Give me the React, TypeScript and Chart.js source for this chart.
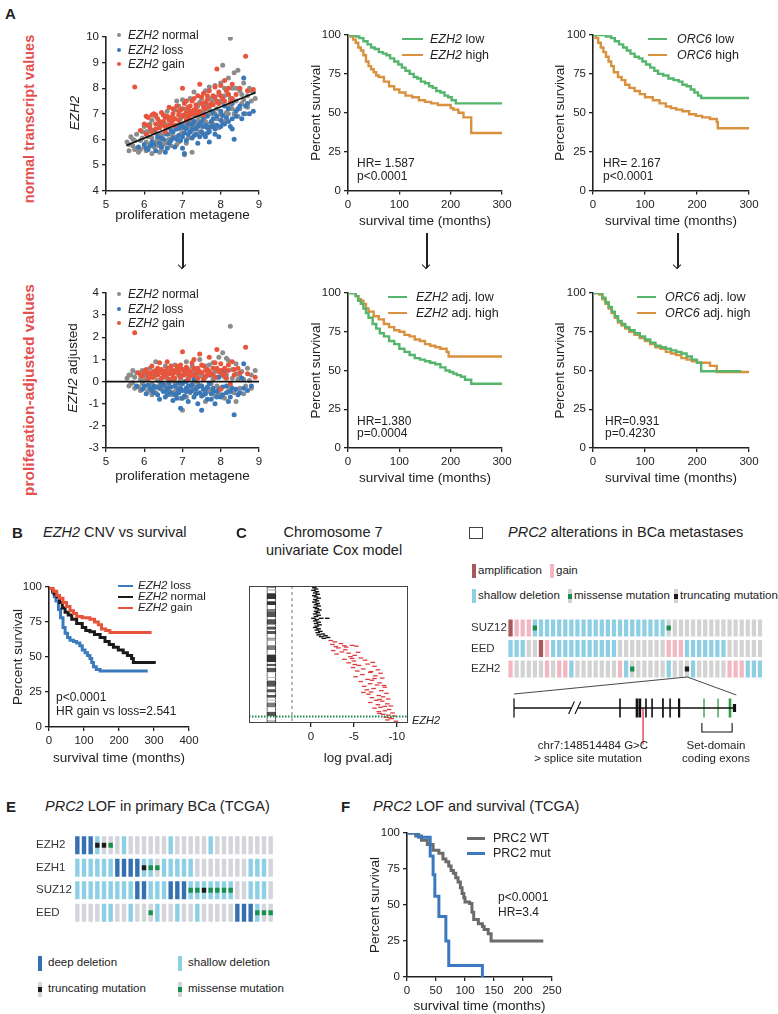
import React, { useEffect, useRef } from "react";
import { Chart, registerables } from "chart.js";

Chart.register(...registerables);

const FONT = "'Liberation Sans', Arial, Helvetica, sans-serif";
Chart.defaults.font.family = FONT;
Chart.defaults.color = "#222";

// ======================= DATA =======================
// ---- Panel A: EZH2 vs proliferation metagene ----
const metageneTicks = [5, 6, 7, 8, 9];
const ezh2Ticks = [4, 5, 6, 7, 8, 9, 10];
const ezh2AdjTicks = [-3, -2, -1, 0, 1, 2, 3, 4];

const ezh2Normal = [
  [5.55, 5.9], [5.6, 5.55], [5.65, 6.1], [5.7, 5.75], [5.75, 5.6], [5.8, 6.2], [5.85, 5.5], [5.9, 5.95], [5.95, 6.3], [6.0, 5.7],
  [6.0, 6.5], [6.05, 5.55], [6.1, 6.1], [6.15, 6.6], [6.15, 5.8], [6.2, 5.45], [6.25, 6.35], [6.3, 6.9], [6.3, 5.9], [6.35, 6.0],
  [6.4, 6.55], [6.45, 5.6], [6.5, 6.2], [6.5, 6.95], [6.55, 5.85], [6.6, 6.45], [6.6, 7.1], [6.65, 6.0], [6.7, 6.7], [6.7, 5.75],
  [6.75, 6.3], [6.8, 7.15], [6.8, 6.1], [6.85, 6.55], [6.9, 5.9], [6.9, 7.3], [6.95, 6.8], [7.0, 6.25], [7.0, 7.55], [7.05, 5.4],
  [7.05, 6.9], [7.1, 6.45], [7.1, 7.2], [7.15, 6.05], [7.2, 6.75], [7.2, 7.6], [7.25, 6.35], [7.3, 7.0], [7.3, 7.85], [7.35, 6.6],
  [7.4, 7.3], [7.4, 6.2], [7.45, 6.9], [7.5, 7.6], [7.5, 6.5], [7.55, 7.1], [7.6, 7.9], [7.6, 6.7], [7.65, 7.35], [7.7, 6.4],
  [7.7, 8.05], [7.75, 7.0], [7.8, 7.55], [7.8, 6.6], [7.85, 8.1], [7.9, 7.2], [7.9, 6.8], [7.95, 7.75], [8.0, 8.2], [8.0, 7.0],
  [8.05, 8.9], [8.05, 7.45], [8.1, 6.7], [8.1, 8.0], [8.15, 7.3], [8.2, 8.4], [8.2, 7.0], [8.25, 9.95], [8.25, 7.6], [8.3, 8.0],
  [8.3, 7.2], [8.35, 8.6], [8.4, 7.5], [8.45, 8.7], [8.45, 6.9], [8.5, 7.9], [8.55, 7.4], [8.6, 8.2], [8.65, 7.0], [8.7, 7.7],
  [8.75, 8.0], [8.8, 7.5], [8.85, 7.85], [8.9, 7.6], [6.4, 5.5], [6.85, 7.5], [7.25, 5.5], [6.2, 6.75], [5.9, 5.6], [7.95, 6.45],
  [6.55, 6.6], [6.95, 6.4], [7.15, 6.9], [7.45, 6.3], [7.65, 6.95], [5.75, 5.95], [6.05, 6.3], [6.25, 5.7], [6.75, 6.85], [7.35, 7.15],
  [5.6, 5.8], [5.7, 6.0], [5.8, 5.65], [5.95, 6.05], [6.05, 5.9], [6.1, 6.3], [6.2, 6.05], [6.3, 6.25], [6.35, 5.75], [6.4, 6.2],
  [6.5, 5.8], [6.55, 6.25], [6.6, 5.95], [6.65, 6.55], [6.7, 6.2], [6.8, 6.4], [6.85, 5.8], [6.95, 6.2], [7.0, 6.95], [7.05, 6.6],
  [7.1, 5.85], [7.2, 6.5], [7.25, 6.95], [7.3, 6.45], [7.4, 6.75], [7.45, 7.45], [7.5, 7.0], [7.6, 7.3], [7.65, 6.6], [7.7, 7.2],
  [7.75, 7.6], [7.85, 7.0], [7.9, 7.45], [8.0, 7.5], [8.05, 6.9], [8.1, 7.7], [8.15, 7.05], [8.2, 7.75], [8.3, 7.55], [8.35, 7.0],
  [8.4, 8.0], [8.5, 7.2], [8.55, 7.75], [8.6, 7.55], [8.7, 7.25], [8.8, 7.9], [6.45, 6.0], [6.9, 6.5], [7.55, 6.75], [8.25, 7.3],
];
const ezh2Loss = [
  [5.85, 5.7], [6.0, 5.8], [6.1, 5.6], [6.2, 5.9], [6.3, 5.55], [6.35, 6.1], [6.45, 5.7], [6.5, 6.0], [6.55, 5.5], [6.6, 6.2],
  [6.65, 5.85], [6.7, 6.35], [6.75, 6.05], [6.8, 5.7], [6.85, 6.4], [6.9, 6.15], [6.95, 5.95], [7.0, 6.5], [7.0, 5.65], [7.05, 6.25],
  [7.1, 5.95], [7.15, 6.6], [7.2, 6.3], [7.25, 6.05], [7.3, 6.7], [7.35, 6.4], [7.4, 5.85], [7.45, 6.6], [7.5, 6.3], [7.55, 6.85],
  [7.6, 6.1], [7.6, 6.55], [7.65, 6.9], [7.7, 5.9], [7.75, 6.7], [7.8, 7.05], [7.85, 6.4], [7.9, 6.9], [7.95, 6.1], [8.0, 7.1],
  [8.05, 6.6], [8.1, 7.3], [8.15, 6.85], [8.2, 7.2], [8.25, 6.5], [8.3, 7.4], [8.35, 6.0], [8.4, 7.1], [8.5, 7.3], [8.6, 8.4],
  [8.6, 7.0], [8.7, 7.4], [8.85, 7.1], [6.25, 6.35], [6.95, 6.6], [7.35, 6.95], [7.7, 6.3], [7.05, 5.45], [6.4, 5.85], [7.55, 6.5],
  [6.6, 5.65], [6.85, 6.0], [7.1, 6.4], [7.25, 6.6], [7.45, 6.1], [7.8, 6.5], [8.0, 6.75], [8.3, 6.8], [6.15, 5.75], [7.65, 6.25],
  [6.05, 5.65], [6.25, 5.8], [6.45, 6.05], [6.7, 5.95], [6.75, 6.3], [6.9, 6.45], [7.0, 6.1], [7.15, 6.2], [7.25, 6.4], [7.3, 6.15],
  [7.4, 6.5], [7.5, 6.7], [7.55, 6.2], [7.65, 6.45], [7.75, 6.5], [7.8, 6.8], [7.85, 6.2], [7.9, 6.55], [8.0, 6.5], [8.05, 6.95],
  [8.1, 6.6], [8.2, 6.7], [8.3, 6.4], [8.4, 6.9], [8.45, 7.2], [8.55, 6.8], [8.65, 7.3], [8.75, 7.0], [7.35, 6.2], [7.05, 6.45],
];
const ezh2Gain = [
  [5.75, 8.05], [5.9, 6.35], [6.0, 6.6], [6.05, 6.2], [6.1, 6.85], [6.15, 6.45], [6.2, 6.3], [6.25, 7.0], [6.3, 6.6], [6.35, 6.8],
  [6.4, 6.45], [6.45, 7.05], [6.5, 6.7], [6.55, 6.5], [6.6, 6.9], [6.65, 7.25], [6.7, 6.6], [6.75, 7.0], [6.8, 6.8], [6.85, 7.3],
  [6.9, 6.95], [6.95, 7.15], [7.0, 8.0], [7.0, 6.9], [7.05, 7.4], [7.1, 7.05], [7.15, 7.25], [7.2, 6.95], [7.25, 7.5], [7.3, 7.15],
  [7.35, 7.35], [7.4, 7.7], [7.45, 8.15], [7.45, 7.1], [7.5, 7.4], [7.55, 7.8], [7.6, 7.2], [7.65, 7.55], [7.7, 7.9], [7.75, 7.4],
  [7.8, 7.7], [7.85, 8.05], [7.9, 8.75], [7.9, 7.5], [7.95, 7.85], [8.0, 8.1], [8.05, 7.6], [8.1, 8.3], [8.15, 7.9], [8.2, 8.0],
  [8.25, 7.45], [8.3, 8.15], [8.4, 7.75], [8.5, 8.0], [8.65, 9.25], [8.7, 7.9], [8.85, 7.95], [6.3, 6.95], [6.55, 6.3], [6.75, 6.75],
  [7.15, 6.85], [7.35, 7.0], [6.05, 6.9], [7.55, 6.95], [6.45, 6.55], [6.65, 6.75], [6.9, 7.1], [7.1, 6.75], [7.2, 7.3], [7.6, 7.45],
  [6.1, 6.55], [6.2, 6.95], [6.3, 6.4], [6.4, 6.7], [6.5, 6.95], [6.55, 6.85], [6.6, 6.5], [6.7, 6.85], [6.75, 7.2], [6.8, 6.55],
  [6.9, 6.75], [7.0, 7.2], [7.05, 6.95], [7.1, 7.5], [7.2, 7.1], [7.25, 7.0], [7.3, 7.6], [7.35, 7.2], [7.4, 7.05], [7.5, 7.65],
  [7.55, 7.25], [7.65, 7.7], [7.7, 7.3], [7.8, 7.35], [7.85, 7.65], [7.95, 7.4], [8.0, 7.7], [8.1, 7.5], [8.2, 7.75], [8.3, 7.6],
];
const ezh2Fit = [[5.53, 5.76], [8.91, 7.83]];

const adjNormal = [
  [5.55, 0.15], [5.6, -0.2], [5.65, 0.3], [5.7, -0.05], [5.75, -0.3], [5.8, 0.4], [5.85, -0.25], [5.9, 0.1], [5.95, 0.5], [6.0, -0.3],
  [6.05, 0.25], [6.1, -0.45], [6.15, 0.6], [6.2, -0.1], [6.25, 0.35], [6.3, 0.9], [6.3, -0.5], [6.35, 0.05], [6.4, 0.5], [6.45, -0.35],
  [6.5, 0.2], [6.55, 0.7], [6.6, -0.2], [6.65, 0.4], [6.7, -0.6], [6.75, 0.1], [6.8, 0.75], [6.85, -0.3], [6.9, 0.3], [6.95, -0.75],
  [7.0, 0.55], [7.0, -1.3], [7.05, 0.0], [7.1, 0.9], [7.15, -0.4], [7.2, 0.25], [7.25, -0.15], [7.3, 0.6], [7.35, -0.55], [7.4, 0.35],
  [7.45, 1.0], [7.5, -0.2], [7.55, 0.15], [7.6, 0.7], [7.65, -0.45], [7.7, 0.4], [7.75, -0.1], [7.8, 0.85], [7.85, -0.65], [7.9, 0.2],
  [7.95, 1.1], [8.0, -0.3], [8.05, 0.5], [8.1, -0.75], [8.15, 0.3], [8.2, 0.95], [8.25, 2.5], [8.25, -0.2], [8.3, 0.55], [8.35, -0.5],
  [8.4, 0.8], [8.45, 0.1], [8.5, -0.3], [8.55, 0.45], [8.6, -0.55], [8.7, 0.6], [8.75, 0.05], [8.8, -0.3], [8.9, 0.5], [6.0, 0.05],
  [6.45, -0.05], [6.9, -0.1], [7.35, 0.0], [7.8, 0.1], [8.05, 1.3], [8.4, -0.9], [5.7, 0.5], [6.2, -0.6], [7.1, -0.7], [7.6, -0.9],
  [8.15, 1.05], [6.55, 0.35], [6.8, -0.45], [7.25, 0.45], [7.5, 0.25], [7.7, -0.35], [6.35, -0.25], [5.95, -0.1],
  [5.6, 0.3], [5.65, -0.1], [5.75, 0.2], [5.9, -0.4], [6.0, 0.35], [6.1, 0.1], [6.2, 0.3], [6.25, -0.3], [6.35, 0.45], [6.4, -0.15],
  [6.5, -0.25], [6.6, 0.15], [6.65, -0.4], [6.75, 0.5], [6.8, -0.05], [6.9, 0.55], [6.95, 0.15], [7.05, 0.4], [7.1, -0.3], [7.2, -0.5],
  [7.25, 0.7], [7.3, -0.25], [7.4, -0.1], [7.45, 0.4], [7.55, -0.35], [7.6, 0.2], [7.7, 0.75], [7.75, 0.3], [7.85, 0.45], [7.9, -0.2],
  [8.0, 0.35], [8.1, 0.2], [8.2, -0.4], [8.3, 0.15], [8.4, 0.35], [8.5, 0.25], [8.6, 0.1], [8.65, -0.2], [8.8, 0.3], [7.15, 0.15],
  [6.55, -0.15], [7.95, -0.55],
];
const adjLoss = [
  [5.8, -0.2], [5.95, -0.35], [6.1, -0.15], [6.2, -0.4], [6.3, -0.25], [6.35, -0.6], [6.45, -0.1], [6.5, -0.45], [6.55, -0.7], [6.6, -0.3],
  [6.65, -0.05], [6.7, -0.5], [6.75, -0.85], [6.8, -0.2], [6.85, -0.55], [6.9, -0.35], [6.95, -1.2], [7.0, -0.1], [7.05, -0.65], [7.1, -0.3],
  [7.15, -0.9], [7.2, -0.45], [7.25, -0.15], [7.3, -0.7], [7.35, -0.35], [7.4, -1.0], [7.45, -0.5], [7.5, -1.3], [7.5, -0.2], [7.55, -0.6],
  [7.6, -0.35], [7.65, -0.8], [7.7, -0.1], [7.75, -0.55], [7.8, -0.3], [7.85, -1.0], [7.9, -0.45], [7.95, 0.2], [8.0, -0.7], [8.05, -0.25],
  [8.1, 0.45], [8.15, -0.5], [8.2, -0.9], [8.3, -0.3], [8.35, -1.5], [8.45, -0.6], [8.55, 0.15], [8.6, 0.8], [8.7, -0.4], [8.8, -0.2],
  [6.4, -0.8], [6.9, -0.05], [7.3, 0.1], [7.7, 0.3], [6.05, -0.55], [7.1, 0.0], [6.6, -0.6], [7.0, -0.4], [7.4, -0.25], [7.6, -0.55],
  [6.25, -0.2], [6.85, -0.75], [7.2, -0.2], [7.9, -0.7], [8.25, -0.45],
  [6.0, -0.2], [6.15, -0.3], [6.25, -0.5], [6.4, -0.3], [6.5, -0.15], [6.6, -0.45], [6.7, -0.25], [6.8, -0.6], [6.9, -0.5], [7.0, -0.75],
  [7.1, -0.45], [7.15, -0.2], [7.25, -0.4], [7.35, -0.55], [7.45, -0.2], [7.55, -0.35], [7.65, -0.25], [7.75, -0.8], [7.8, -0.45], [7.95, -0.35],
  [8.05, -0.6], [8.15, -0.2], [8.25, -0.7], [8.4, -0.35], [8.5, -0.5], [8.6, -0.3], [6.95, -0.3], [7.5, -0.65],
];
const adjGain = [
  [5.75, 2.2], [5.85, 0.4], [5.95, 0.25], [6.05, 0.55], [6.1, 0.15], [6.15, 0.4], [6.2, 0.7], [6.25, 0.2], [6.3, 0.5], [6.35, 0.3],
  [6.4, 0.85], [6.45, 0.15], [6.5, 0.45], [6.55, 0.25], [6.6, 0.6], [6.65, 0.1], [6.7, 0.5], [6.75, 0.35], [6.8, 0.15], [6.85, 0.7],
  [6.9, 0.4], [6.95, 0.2], [7.0, 1.35], [7.0, 0.55], [7.05, 0.3], [7.1, 0.65], [7.15, 0.1], [7.2, 0.45], [7.25, 0.85], [7.3, 0.3],
  [7.35, 0.55], [7.4, 0.15], [7.45, 1.25], [7.5, 0.4], [7.55, 0.7], [7.6, 0.25], [7.65, 0.55], [7.7, 1.1], [7.75, 0.35], [7.8, 0.6],
  [7.85, 0.2], [7.9, 1.45], [7.95, 0.45], [8.0, 0.8], [8.05, 0.3], [8.1, 0.6], [8.15, 0.15], [8.2, 0.5], [8.3, 0.9], [8.35, 0.3],
  [8.45, 0.6], [8.65, 1.55], [8.7, 0.35], [8.9, 0.2], [6.35, 0.6], [6.6, 0.9], [6.95, 0.75], [7.3, 1.0], [7.55, 0.1], [7.85, 0.85],
  [8.25, -0.1], [8.0, -0.35], [6.5, 0.3], [6.8, 0.5], [7.1, 0.35], [7.4, 0.6], [7.65, 0.3], [6.25, 0.45],
  [5.9, 0.3], [6.0, 0.45], [6.1, 0.35], [6.2, 0.2], [6.3, 0.3], [6.4, 0.4], [6.45, 0.55], [6.55, 0.45], [6.65, 0.35], [6.7, 0.7],
  [6.75, 0.2], [6.85, 0.4], [6.9, 0.6], [7.0, 0.3], [7.05, 0.5], [7.15, 0.55], [7.2, 0.25], [7.3, 0.6], [7.35, 0.35], [7.45, 0.45],
  [7.5, 0.75], [7.6, 0.5], [7.7, 0.45], [7.8, 0.3], [7.9, 0.6], [8.0, 0.5], [8.1, 0.35], [8.2, 0.75], [8.35, 0.55], [8.5, 0.4],
];
const adjFit = [[5, 0], [9, 0]];

// ---- Kaplan–Meier curves: [time (months), percent survival] ----
const survTicks = [0, 25, 50, 75, 100];
const t300Ticks = [0, 100, 200, 300];
const t400Ticks = [0, 100, 200, 300, 400];
const t250Ticks = [0, 50, 100, 150, 200, 250];

const kmEzh2Low = [[0, 100], [10, 100], [15, 99], [22, 98], [30, 96], [38, 94], [45, 92], [52, 91], [60, 89], [68, 88], [75, 87], [82, 85], [90, 83], [98, 81], [105, 79], [112, 77], [120, 75], [128, 73], [135, 72], [142, 70], [150, 69], [158, 67], [165, 66], [172, 64], [180, 63], [188, 61], [195, 60], [202, 58], [210, 56], [300, 56]];
const kmEzh2High = [[0, 100], [5, 99], [10, 97], [15, 95], [20, 92], [25, 90], [30, 87], [35, 83], [40, 80], [45, 78], [50, 76], [55, 74], [60, 73], [70, 70], [80, 67], [90, 65], [100, 63], [112, 61], [125, 60], [138, 58], [150, 57], [162, 56], [175, 55], [195, 55], [200, 53], [205, 52], [215, 50], [225, 47], [238, 47], [240, 37], [300, 37]];
const kmOrc6Low = [[0, 100], [15, 100], [25, 99], [35, 98], [42, 96], [50, 94], [58, 92], [65, 90], [72, 88], [80, 86], [88, 85], [95, 83], [102, 81], [110, 79], [118, 77], [125, 75], [135, 74], [145, 72], [155, 71], [165, 70], [172, 68], [180, 67], [188, 65], [195, 63], [202, 61], [208, 59.5], [300, 59.5]];
const kmOrc6High = [[0, 100], [5, 98], [10, 95], [15, 92], [20, 89], [25, 86], [30, 83], [35, 80], [40, 76], [48, 73], [55, 71], [62, 68], [70, 66], [80, 64], [90, 62], [100, 60], [115, 58], [128, 56], [140, 54], [150, 53], [160, 52], [172, 51], [185, 49], [198, 48], [210, 47], [225, 46], [238, 44], [240, 40], [300, 40]];
const kmEzh2AdjLow = [[0, 100], [10, 100], [15, 98], [20, 95], [25, 93], [30, 90], [35, 87], [40, 84], [48, 80], [55, 77], [62, 74], [70, 72], [80, 69], [90, 67], [100, 64], [110, 62], [120, 60], [130, 58], [140, 57], [150, 56], [160, 55], [170, 54], [180, 52], [190, 50], [198, 49], [205, 48], [212, 47], [220, 46], [228, 44], [235, 44], [240, 41.5], [300, 41.5]];
const kmEzh2AdjHigh = [[0, 100], [10, 100], [15, 98], [20, 96], [25, 95], [30, 93], [35, 90], [40, 88], [50, 85], [60, 83], [70, 80], [80, 78], [90, 76], [100, 75], [110, 73], [120, 72], [130, 70], [140, 69], [150, 67], [160, 66], [170, 65], [180, 64], [192, 62], [196, 59], [300, 59]];
const kmOrc6AdjLow = [[0, 100], [12, 100], [18, 97], [24, 94], [30, 91], [36, 88], [42, 85], [48, 82], [55, 80], [62, 78], [70, 76], [80, 74], [90, 72], [100, 70], [110, 68], [120, 66], [130, 65], [140, 64], [150, 63], [160, 62], [170, 61], [180, 59], [190, 57], [200, 55], [208, 49.5], [285, 49.5]];
const kmOrc6AdjHigh = [[0, 100], [12, 99], [18, 96], [24, 93], [30, 90], [36, 87], [42, 84], [48, 81], [55, 79], [62, 77], [70, 75], [80, 73], [90, 71], [100, 69], [110, 67], [120, 65], [130, 64], [140, 62], [150, 61], [160, 60], [170, 58], [180, 57], [190, 56], [200, 55], [215, 55], [225, 53], [238, 49], [300, 49]];

const kmCnvLoss = [[0, 100], [5, 99], [10, 96], [15, 93], [20, 90], [27, 84], [33, 78], [40, 71], [46, 67], [53, 64], [60, 62], [70, 61], [79, 60], [88, 58], [95, 55], [103, 53], [110, 51], [117, 49], [122, 46], [127, 43], [135, 41], [146, 40], [282, 40]];
const kmCnvNormal = [[0, 100], [5, 99], [10, 97], [15, 95], [22, 93], [30, 89], [38, 85], [46, 82], [55, 80], [65, 77], [79, 74], [95, 71], [105, 69], [117, 68], [130, 66], [146, 64], [160, 61], [172, 59], [184, 57], [198, 55], [212, 53], [224, 51], [236, 49], [241, 46], [305, 46]];
const kmCnvGain = [[0, 100], [5, 99], [12, 97], [22, 94], [30, 92], [40, 89], [50, 86], [60, 83], [70, 81], [79, 79], [95, 78], [117, 77], [130, 75], [141, 73], [150, 70], [162, 69], [174, 67.5], [293, 67.5]];

const kmPrc2Wt = [[0, 100], [10, 100], [15, 98], [25, 95], [35, 92], [45, 88], [55, 86], [62, 82], [67, 80], [72, 77], [76, 74], [80, 72], [84, 69], [88, 66], [92, 62], [95, 58], [98, 55], [100, 52], [108, 51], [112, 45], [115, 40], [123, 37], [130, 35], [133, 33], [140, 30], [145, 25], [235, 25]];
const kmPrc2Mut = [[0, 100], [20, 97], [38, 97], [40, 84], [45, 71], [48, 56], [55, 42], [67, 25], [72, 8], [130, 8], [130, 0]];

// ---- Panel C: chromosome 7 univariate Cox model ----
const coxTicks = [0, -5, -10];
const chr7Bands: [number, number, string][] = [
  [0, 2.8, "gneg"], [2.8, 4.5, "gpos25"], [4.5, 7.3, "gneg"], [7.3, 13.8, "gpos100"], [13.8, 16.5, "gneg"], [16.5, 20.9, "gpos100"],
  [20.9, 25.5, "gneg"], [25.5, 28.8, "gpos50"], [28.8, 28.9, "gneg"], [28.9, 34.8, "gpos75"], [34.8, 37.1, "gneg"], [37.1, 43.3, "gpos75"],
  [43.3, 45.4, "gneg"], [45.4, 49.0, "gpos75"], [49.0, 50.5, "gneg"], [50.5, 54.0, "gpos75"], [54.0, 58.0, "gneg"], [58.0, 59.9, "acen"],
  [59.9, 61.7, "acen"], [61.7, 67.0, "gneg"], [67.0, 72.2, "gpos50"], [72.2, 77.5, "gneg"], [77.5, 86.4, "gpos100"], [86.4, 88.2, "gneg"],
  [88.2, 91.1, "gpos75"], [91.1, 92.8, "gneg"], [92.8, 98.0, "gpos75"], [98.0, 103.8, "gneg"], [103.8, 104.5, "gpos50"], [104.5, 107.4, "gneg"],
  [107.4, 114.6, "gpos75"], [114.6, 117.4, "gneg"], [117.4, 121.1, "gpos75"], [121.1, 123.8, "gneg"], [123.8, 127.1, "gpos75"], [127.1, 129.2, "gneg"],
  [129.2, 130.4, "gpos25"], [130.4, 132.6, "gneg"], [132.6, 138.2, "gpos50"], [138.2, 143.1, "gneg"], [143.1, 147.9, "gpos75"], [147.9, 152.6, "gneg"],
  [152.6, 155.1, "gpos25"], [155.1, 159.1, "gneg"],
];
// [position (Mb), log pval.adj]
const coxNotSig = [
  [1, -0.4], [2.5, -0.6], [4, -0.3], [5.5, -0.7], [7, -0.5], [8.5, -0.8], [10, -0.4], [11.5, -0.6], [13, -0.9], [14.5, -0.5],
  [16, -0.7], [17.5, -0.4], [19, -0.8], [20.5, -0.6], [22, -0.9], [23.5, -0.5], [25, -0.7], [26.5, -1.0], [28, -0.6], [29.5, -0.8],
  [31, -0.5], [32.5, -0.9], [34, -0.6], [36, -1.9], [36, -1.2], [36, -0.3], [37.5, -0.7], [39, -0.5], [40.5, -0.9], [42, -0.6],
  [43.5, -1.0], [45, -0.7], [46.5, -0.5], [48, -0.9], [49.5, -0.7], [51, -1.1], [52.5, -0.8], [54, -1.4], [55, -0.9], [56, -1.7],
  [57, -1.2], [58, -2.0], [59, -1.5],
];
const coxSig = [
  [61.5, -2.3], [63, -2.8], [65, -3.5], [66, -2.5], [67, -4.8], [67.5, -3.9], [68, -5.3], [68.5, -2.9], [70, -3.2], [72, -4.0],
  [73, -2.6], [74.5, -3.6], [76, -4.4], [77, -3.0], [78.5, -5.1], [80, -4.6], [81.5, -5.8], [83, -3.9], [84, -6.3], [85, -5.0],
  [86.5, -7.2], [87, -4.4], [88.5, -6.6], [90, -5.6], [91, -7.4], [92.5, -4.9], [94, -6.1], [95, -7.8], [96.5, -5.4], [98, -6.9],
  [99, -8.1], [100.5, -6.0], [102, -7.5], [103, -5.2], [104.5, -8.3], [106, -6.6], [107, -7.1], [108.5, -5.8], [110, -8.0], [111, -6.9],
  [112.5, -7.7], [114, -6.2], [115, -8.6], [116.5, -7.3], [118, -6.5], [119, -8.2], [120.5, -7.0], [122, -8.8], [123, -6.7], [124.5, -7.9],
  [126, -8.4], [127, -7.1], [128.5, -9.0], [130, -7.6], [131, -8.3], [132.5, -6.9], [134, -8.9], [135, -7.8], [136.5, -9.3], [138, -8.1],
  [139, -7.4], [140.5, -9.1], [142, -8.6], [143, -7.9], [144.5, -9.5], [146, -8.4], [147, -9.0], [148, -9.7], [149.5, -8.7], [151, -9.4],
  [152.5, -8.9], [154, -9.9], [69, -4.1], [75, -5.5], [82, -4.8], [89, -5.1], [97, -7.0], [105, -7.4], [113, -8.5], [121, -6.1],
  [129, -8.0], [137, -8.6], [145, -8.0], [150, -9.2],
];
const ezh2PositionMb = 148.5;
const coxThreshold = 2.2;
const ideogramColumn = 4.6;

// ---- Panel D: PRC2 alterations in BCa metastases ----
const dGenes = ["SUZ12", "EED", "EZH2"];
const dCnv = [
  "appp" + "ssssssssssssssssssssss" + "gggggggggggggggg",
  "sssgg" + "a" + "p" + "sssssssssss" + "gggggggg" + "ppp" + "sssssss" + "gggggg",
  "pgggggpgpps" + "gggggggps" + "gggggg" + "sggg" + "s" + "ggggg" + "ppp" + "sss",
];
const dMut = [
  "....m" + "....................." + "m" + "...............",
  "..........................................",
  "...................." + "m" + "........" + "t" + "............",
];
// gene model (diagram units)
const geneSpan = [3.4, 87.0];
const geneBreak = [25.0, 27.6];
const geneExons: [number, number, string][] = [
  [43.4, 1.6, "#111"], [49.8, 2.6, "#111"], [50.9, 2.6, "#111"], [53.2, 1.6, "#111"], [55.5, 1.6, "#111"],
  [59.6, 1.0, "#111"], [62.3, 1.6, "#111"], [65.7, 2.2, "#111"],
  [75.1, 1.3, "#2ea043"], [80.4, 1.3, "#2ea043"], [84.9, 2.6, "#2ea043"],
];
const spliceSite = 52.1;
const setDomain = [74.3, 85.7];

// ---- Panel E: PRC2 LOF in primary BCa (TCGA) ----
const eGenes = ["EZH2", "EZH1", "SUZ12", "EED"];
const eCnv = [
  "ddd" + "s" + "ggg" + "s" + "gggggg" + "s" + "ggggg" + "s" + "ggggggggg",
  "ssssss" + "dddd" + "ss" + "g" + "sssss" + "gggggggg" + "sss" + "g",
  "sssssssss" + "dd" + "sss" + "ddd" + "sssssss" + "gg" + "sss" + "g",
  "gggg" + "ss" + "gg" + "s" + "ggg" + "s" + "gg" + "s" + "gg" + "s" + "ggggg" + "ddd" + "s" + "gg",
];
const eMut = [
  "..." + "ttm" + "........................",
  ".........." + "tmm" + ".................",
  "................." + "mmtmmmm" + "......",
  "..........." + "m" + "..............." + "mmm",
];

// ======================= STYLE =======================
const GREEN = "#55b56c";
const ORANGE = "#d8913e";
const SC_GRAY = "#8c8c8c";
const SC_BLUE = "#3b78b8";
const SC_RED = "#e8553d";
const B_BLUE = "#3a7abd";
const B_BLACK = "#1a1a1a";
const B_RED = "#e8533c";
const F_GRAY = "#6b6b6b";
const F_BLUE = "#3a78bf";
const RED_LABEL = "#e4504f";

const dColors: Record<string, string> = { g: "#d3d3d3", s: "#8ecfe4", p: "#f3b7c2", a: "#a65a5e", m: "#18904c", t: "#1b1b1b" };
const eColors: Record<string, string> = { g: "#d3d5da", s: "#8dd0e5", d: "#3570b1", m: "#18904c", t: "#1b1b1b" };

type Box = { l: number; t: number; r: number; b: number };

const tickFont = { size: 11.5, family: FONT };
const titleFont = { size: 13.5, family: FONT, lineHeight: 1 };

function base(padding: any) {
  return {
    responsive: false,
    maintainAspectRatio: false,
    animation: false,
    events: [],
    layout: { padding },
    plugins: { legend: { display: false }, tooltip: { enabled: false } },
  };
}

function frame(c: Box, a: Box) {
  return {
    padding: { left: 0, top: a.t - c.t, right: c.r - a.r, bottom: 0 },
    yW: a.l - c.l,
    xH: c.b - a.b,
  };
}

function linAxis(o: { axis: "x" | "y"; min: number; max: number; ticks: number[]; size: number; title?: string; titleOff?: number; reverse?: boolean; border?: boolean }) {
  return {
    type: "linear",
    min: o.min,
    max: o.max,
    offset: false,
    reverse: !!o.reverse,
    afterBuildTicks: (s: any) => {
      s.ticks = o.ticks.map((v) => ({ value: v }));
    },
    afterFit: (s: any) => {
      if (o.axis === "x") {
        s.height = o.size;
        s.paddingLeft = 0;
        s.paddingRight = 0;
      } else {
        s.width = o.size;
        s.paddingTop = 0;
        s.paddingBottom = 0;
      }
    },
    ticks: { font: tickFont, color: "#222", padding: 3 },
    grid: { display: true, offset: false, drawOnChartArea: false, drawTicks: true, tickLength: 4, color: "#222", lineWidth: 1.3 },
    border: { display: o.border !== false, color: "#222", width: 1.6 },
    title: o.title
      ? { display: true, text: o.title, font: titleFont, color: "#222", padding: { top: o.titleOff, bottom: o.titleOff } }
      : { display: false },
  };
}

const xy = (arr: number[][]) => arr.map(([x, y]) => ({ x, y }));

function kmConfig(series: { data: number[][]; color: string; width?: number }[], c: Box, a: Box, xMax: number, xTicks: number[], yTitleX: number, xTitleY: number) {
  const f = frame(c, a);
  return {
    type: "line",
    data: {
      datasets: series.map((s) => ({
        data: xy(s.data),
        borderColor: s.color,
        borderWidth: s.width ?? 2.4,
        stepped: true,
        pointRadius: 0,
        fill: false,
      })),
    },
    options: {
      ...base(f.padding),
      scales: {
        x: linAxis({ axis: "x", min: 0, max: xMax, ticks: xTicks, size: f.xH, title: "survival time (months)", titleOff: c.b - xTitleY - 6.75 }),
        y: linAxis({ axis: "y", min: 0, max: 100, ticks: survTicks, size: f.yW, title: "Percent survival", titleOff: yTitleX - c.l - 6.75 }),
      },
    },
  };
}

function scatterConfig(normal: number[][], loss: number[][], gain: number[][], fit: number[][], c: Box, a: Box, yMin: number, yMax: number, yTicks: number[], xTitleY: number) {
  const f = frame(c, a);
  const pt = (d: number[][], col: string, order: number) => ({
    data: xy(d), pointRadius: 2.5, pointBackgroundColor: col, pointBorderWidth: 0, showLine: false, order,
  });
  return {
    type: "scatter",
    data: {
      datasets: [
        { data: xy(fit), showLine: true, borderColor: "#111", borderWidth: 1.8, pointRadius: 0, order: 0 },
        pt(gain, SC_RED, 1),
        pt(loss, SC_BLUE, 2),
        pt(normal, SC_GRAY, 3),
      ],
    },
    options: {
      ...base(f.padding),
      scales: {
        x: linAxis({ axis: "x", min: 5, max: 9, ticks: metageneTicks, size: f.xH, title: "proliferation metagene", titleOff: c.b - xTitleY - 6.75 }),
        y: linAxis({ axis: "y", min: yMin, max: yMax, ticks: yTicks, size: f.yW }),
      },
    },
  };
}

const boxPlugin = {
  id: "areaBox",
  afterDatasetsDraw(chart: any) {
    const { ctx, chartArea: a } = chart;
    ctx.save();
    ctx.strokeStyle = "#444";
    ctx.lineWidth = 1;
    ctx.strokeRect(a.left + 0.5, a.top + 0.5, a.right - a.left - 1, a.bottom - a.top - 1);
    ctx.restore();
  },
};

function coxConfig(c: Box, a: Box) {
  const bandColor: Record<string, string> = { gneg: "#ffffff", gpos25: "#bdbdbd", gpos50: "#7d7d7d", gpos75: "#555555", gpos100: "#333333", acen: "#9a9a9a" };
  const last = chr7Bands.length - 1;
  return {
    type: "scatter",
    data: {
      datasets: [
        {
          data: [{ x: coxThreshold, y: -1 }, { x: coxThreshold, y: 160 }],
          showLine: true, borderColor: "#777", borderWidth: 1, borderDash: [3, 3], pointRadius: 0, order: 4,
        },
        {
          type: "bar",
          data: chr7Bands.map((b) => ({ x: ideogramColumn, y: [b[0], b[1]] })),
          backgroundColor: chr7Bands.map((b) => bandColor[b[2]]),
          borderColor: "#222",
          borderWidth: (ctx: any) => ({ left: 0.9, right: 0.9, top: ctx.dataIndex === 0 ? 0.9 : 0, bottom: ctx.dataIndex === last ? 0.9 : 0 }),
          borderSkipped: false,
          barThickness: 9,
          order: 3,
        },
        { data: coxNotSig.map(([p, v]) => ({ x: v, y: p })), pointStyle: "line", pointRadius: 2.3, pointBorderColor: "#111", pointBorderWidth: 1.4, showLine: false, order: 2 },
        { data: coxSig.map(([p, v]) => ({ x: v, y: p })), pointStyle: "line", pointRadius: 2.3, pointBorderColor: "#e03b3b", pointBorderWidth: 1.3, showLine: false, order: 1 },
        {
          data: [{ x: 7.2, y: ezh2PositionMb }, { x: -11.3, y: ezh2PositionMb }],
          showLine: true, borderColor: "#1f8a4c", borderWidth: 2, borderDash: [1.5, 1.5], pointRadius: 0, order: 0,
        },
      ],
    },
    options: {
      ...base({ left: a.l - c.l, top: a.t - c.t, right: c.r - a.r, bottom: 0 }),
      scales: {
        x: linAxis({ axis: "x", min: -11.3, max: 7.2, reverse: true, ticks: coxTicks, size: c.b - a.b, border: false }),
        y: { type: "linear", min: -1, max: 156, reverse: true, display: false, offset: false },
      },
    },
    plugins: [boxPlugin],
  };
}

function oncoConfig(genes: string[], cnv: string[], mut: string[], colors: Record<string, string>, c: Box, a: Box, fill: number, markH: number, barPct: number) {
  const labels = cnv[0].split("").map((_, i) => "S" + (i + 1));
  const datasets: any[] = [];
  genes.forEach((g, r) => {
    const cs = cnv[r].split("");
    const ms = mut[r].split("");
    datasets.push({
      label: g + " cnv",
      data: cs.map(() => [r + (1 - fill) / 2, r + (1 + fill) / 2]),
      backgroundColor: cs.map((k) => colors[k]),
      order: 2,
    });
    datasets.push({
      label: g + " mut",
      data: ms.map((k) => (k === "." ? null : [r + 0.5 - markH / 2, r + 0.5 + markH / 2])),
      backgroundColor: ms.map((k) => colors[k] || "rgba(0,0,0,0)"),
      order: 1,
    });
  });
  return {
    type: "bar",
    data: { labels, datasets },
    options: {
      ...base({ left: 0, top: a.t - c.t, right: c.r - a.r, bottom: c.b - a.b }),
      datasets: { bar: { grouped: false, barPercentage: barPct, categoryPercentage: 1, borderWidth: 0 } },
      scales: {
        x: { display: false },
        y: {
          type: "linear",
          min: 0,
          max: genes.length,
          reverse: true,
          afterBuildTicks: (s: any) => {
            s.ticks = genes.map((_, i) => ({ value: i + 0.5 }));
          },
          afterFit: (s: any) => {
            s.width = a.l - c.l;
            s.paddingTop = 0;
            s.paddingBottom = 0;
          },
          ticks: { crossAlign: "far", padding: 0, font: { size: 11.5, family: FONT }, color: "#333", callback: (_v: any, i: number) => genes[i] },
          grid: { display: false },
          border: { display: false },
        },
      },
    },
  };
}

function geneConfig() {
  const seg = (pts: number[][], color: string, width: number) => ({
    data: xy(pts), showLine: true, borderColor: color, borderWidth: width, pointRadius: 0, fill: false,
  });
  const yLine = 7.2;
  const yTop = 5.3;
  const yBot = 9.1;
  const ds: any[] = [
    seg([[geneSpan[0], yLine], [geneBreak[0], yLine]], "#111", 1.3),
    seg([[geneBreak[1], yLine], [geneSpan[1], yLine]], "#111", 1.3),
    seg([[geneBreak[0] - 1.0, 8.4], [geneBreak[0] + 1.2, 5.9]], "#111", 1.1),
    seg([[geneBreak[1] - 1.2, 8.4], [geneBreak[1] + 1.0, 5.9]], "#111", 1.1),
    seg([[geneSpan[0], yTop], [geneSpan[0], yBot]], "#111", 1.3),
    seg([[spliceSite, yLine], [spliceSite, 14.5]], "#e0393e", 1.3),
    seg([[68.8, 1.0], [geneSpan[0], 4.4]], "#333", 0.9),
    seg([[68.8, 1.0], [87.3, 4.6]], "#333", 0.9),
    seg([[setDomain[0], 10.2], [setDomain[0], 12], [setDomain[1], 12], [setDomain[1], 10.2]], "#111", 1.1),
    seg([[geneSpan[1] - 0.4, 6.4], [geneSpan[1] - 0.4, 8.0]], "#111", 3.2),
  ];
  geneExons.forEach(([x, w, col]) => ds.push(seg([[x, yTop], [x, yBot]], col, w)));
  return {
    type: "scatter",
    data: { datasets: ds },
    options: {
      ...base({ left: 0, top: 0, right: 0, bottom: 0 }),
      scales: {
        x: { type: "linear", min: 0, max: 100, display: false, offset: false },
        y: { type: "linear", min: 0, max: 15, reverse: true, display: false, offset: false },
      },
    },
  };
}

// ======================= COMPONENTS =======================
function ChartCanvas({ box, make }: { box: Box; make: () => any }) {
  const ref = useRef<HTMLCanvasElement>(null);
  useEffect(() => {
    const chart = new Chart(ref.current as HTMLCanvasElement, make());
    return () => chart.destroy();
  }, []);
  const w = box.r - box.l;
  const h = box.b - box.t;
  return <canvas ref={ref} width={w} height={h} style={{ position: "absolute", left: box.l, top: box.t, width: w, height: h }} />;
}

function T({ x, y, size = 12, align = "left", rot = false, bold = false, color = "#222", children }: any) {
  const tx = align === "left" ? "0" : align === "center" ? "-50%" : "-100%";
  return (
    <div
      style={{
        position: "absolute",
        left: x,
        top: y,
        transform: rot ? "translate(-50%,-50%) rotate(-90deg)" : `translate(${tx},-50%)`,
        fontSize: size,
        lineHeight: 1,
        whiteSpace: "nowrap",
        fontWeight: bold ? 700 : 400,
        color,
      }}
    >
      {children}
    </div>
  );
}

function LineKey({ x1, x2, y, color, w = 2.5 }: any) {
  return <div style={{ position: "absolute", left: x1, top: y - w / 2, width: x2 - x1, height: w, background: color }} />;
}
function DotKey({ x, y, color }: any) {
  return <div style={{ position: "absolute", left: x - 2.4, top: y - 2.4, width: 4.8, height: 4.8, borderRadius: "50%", background: color }} />;
}
function Swatch({ x, y, color, mark, h = 14 }: any) {
  return (
    <div style={{ position: "absolute", left: x, top: y - h / 2, width: 4, height: h, background: color }}>
      {mark ? <div style={{ position: "absolute", left: 0, top: h / 2 - 2.5, width: 4, height: 5, background: mark }} /> : null}
    </div>
  );
}
function Arrow({ x, y1, y2 }: any) {
  return (
    <>
      <div style={{ position: "absolute", left: x - 0.6, top: y1, width: 1.2, height: y2 - y1, background: "#222" }} />
      <div style={{ position: "absolute", left: x - 3.6, top: y2 - 6.5, width: 5, height: 5, borderRight: "1.3px solid #222", borderBottom: "1.3px solid #222", transform: "rotate(45deg)" }} />
    </>
  );
}

// ======================= LAYOUT =======================
const cScatTop: Box = { l: 60, t: 25, r: 275, b: 230 };
const aScatTop: Box = { l: 106, t: 37, r: 259, b: 190.5 };
const cKm1: Box = { l: 300, t: 22, r: 518, b: 230 };
const aKm1: Box = { l: 348, t: 35, r: 502, b: 190.5 };
const cKm2: Box = { l: 545, t: 22, r: 770, b: 230 };
const aKm2: Box = { l: 593, t: 35, r: 749, b: 190.5 };
const cScatBot: Box = { l: 60, t: 280, r: 275, b: 490 };
const aScatBot: Box = { l: 106, t: 293, r: 259, b: 448 };
const cKm3: Box = { l: 300, t: 280, r: 518, b: 490 };
const aKm3: Box = { l: 348, t: 293, r: 502, b: 448 };
const cKm4: Box = { l: 545, t: 280, r: 770, b: 490 };
const aKm4: Box = { l: 593, t: 293, r: 749, b: 448 };
const cKmB: Box = { l: 5, t: 575, r: 210, b: 768 };
const aKmB: Box = { l: 49, t: 587, r: 189, b: 727 };
const cCox: Box = { l: 240, t: 578, r: 420, b: 770 };
const aCox: Box = { l: 249, t: 586, r: 408, b: 723 };
const cOncoD: Box = { l: 471, t: 612, r: 770, b: 685 };
const aOncoD: Box = { l: 507.5, t: 617.75, r: 763, b: 679.25 };
const cGene: Box = { l: 505, t: 672, r: 770, b: 747 };
const cOncoE: Box = { l: 36, t: 828, r: 282, b: 930 };
const aOncoE: Box = { l: 74, t: 834, r: 274, b: 924 };
const cKmF: Box = { l: 365, t: 822, r: 567, b: 1014 };
const aKmF: Box = { l: 407, t: 833, r: 552, b: 977 };

export default function App() {
  return (
    <div style={{ position: "absolute", left: 0, top: 0, width: 778, height: 1014, overflow: "hidden", background: "#fff", fontFamily: FONT, color: "#222" }}>
      <ChartCanvas box={cScatTop} make={() => scatterConfig(ezh2Normal, ezh2Loss, ezh2Gain, ezh2Fit, cScatTop, aScatTop, 4, 10, ezh2Ticks, 215)} />
      <ChartCanvas box={cKm1} make={() => kmConfig([{ data: kmEzh2Low, color: GREEN }, { data: kmEzh2High, color: ORANGE }], cKm1, aKm1, 300, t300Ticks, 316, 221)} />
      <ChartCanvas box={cKm2} make={() => kmConfig([{ data: kmOrc6Low, color: GREEN }, { data: kmOrc6High, color: ORANGE }], cKm2, aKm2, 300, t300Ticks, 560, 221)} />
      <ChartCanvas box={cScatBot} make={() => scatterConfig(adjNormal, adjLoss, adjGain, adjFit, cScatBot, aScatBot, -3, 4, ezh2AdjTicks, 476)} />
      <ChartCanvas box={cKm3} make={() => kmConfig([{ data: kmEzh2AdjLow, color: GREEN }, { data: kmEzh2AdjHigh, color: ORANGE }], cKm3, aKm3, 300, t300Ticks, 316, 478)} />
      <ChartCanvas box={cKm4} make={() => kmConfig([{ data: kmOrc6AdjLow, color: GREEN }, { data: kmOrc6AdjHigh, color: ORANGE }], cKm4, aKm4, 300, t300Ticks, 560, 478)} />
      <ChartCanvas box={cKmB} make={() => kmConfig([{ data: kmCnvGain, color: B_RED, width: 3 }, { data: kmCnvNormal, color: B_BLACK, width: 3 }, { data: kmCnvLoss, color: B_BLUE, width: 3 }], cKmB, aKmB, 400, t400Ticks, 18, 758)} />
      <ChartCanvas box={cCox} make={() => coxConfig(cCox, aCox)} />
      <ChartCanvas box={cOncoD} make={() => oncoConfig(dGenes, dCnv, dMut, dColors, cOncoD, aOncoD, 0.83, 0.25, 0.7)} />
      <ChartCanvas box={cGene} make={() => geneConfig()} />
      <ChartCanvas box={cOncoE} make={() => oncoConfig(eGenes, eCnv, eMut, eColors, cOncoE, aOncoE, 0.8, 0.22, 0.66)} />
      <ChartCanvas box={cKmF} make={() => kmConfig([{ data: kmPrc2Mut, color: F_BLUE, width: 3 }, { data: kmPrc2Wt, color: F_GRAY, width: 3 }], cKmF, aKmF, 250, t250Ticks, 375, 1006)} />

      {/* ---------- Panel A ---------- */}
      <T x={5} y={13} size={15} bold>A</T>
      <T x={29} y={119} size={14.5} bold rot color={RED_LABEL}>normal transcript values</T>
      <T x={29} y={390} size={15.5} bold rot color={RED_LABEL}>proliferation-adjusted values</T>

      <T x={75} y={113} size={13.5} rot><i>EZH2</i></T>
      <DotKey x={119} y={35} color={SC_GRAY} />
      <T x={128} y={35}><i>EZH2</i> normal</T>
      <DotKey x={119} y={50} color={SC_BLUE} />
      <T x={128} y={50}><i>EZH2</i> loss</T>
      <DotKey x={119} y={64} color={SC_RED} />
      <T x={128} y={64}><i>EZH2</i> gain</T>

      <LineKey x1={402} x2={423} y={39} color={GREEN} />
      <T x={430} y={39} size={12.5}><i>EZH2</i> low</T>
      <LineKey x1={402} x2={423} y={55} color={ORANGE} />
      <T x={430} y={55} size={12.5}><i>EZH2</i> high</T>
      <T x={357} y={163}>HR= 1.587</T>
      <T x={357} y={176}>p&lt;0.0001</T>

      <LineKey x1={648} x2={667} y={39} color={GREEN} />
      <T x={677} y={39} size={12.5}><i>ORC6</i> low</T>
      <LineKey x1={648} x2={667} y={55} color={ORANGE} />
      <T x={677} y={55} size={12.5}><i>ORC6</i> high</T>
      <T x={603} y={163}>HR= 2.167</T>
      <T x={603} y={176}>p&lt;0.0001</T>

      <Arrow x={183} y1={233} y2={268} />
      <Arrow x={427} y1={233} y2={268} />
      <Arrow x={678} y1={233} y2={268} />

      <T x={73} y={368} size={13.5} rot><i>EZH2</i> adjusted</T>
      <DotKey x={119} y={294} color={SC_GRAY} />
      <T x={128} y={294}><i>EZH2</i> normal</T>
      <DotKey x={119} y={309} color={SC_BLUE} />
      <T x={128} y={309}><i>EZH2</i> loss</T>
      <DotKey x={119} y={323} color={SC_RED} />
      <T x={128} y={323}><i>EZH2</i> gain</T>

      <LineKey x1={388} x2={407} y={297} color={GREEN} />
      <T x={416} y={297} size={12.5}><i>EZH2</i> adj. low</T>
      <LineKey x1={388} x2={407} y={313} color={ORANGE} />
      <T x={416} y={313} size={12.5}><i>EZH2</i> adj. high</T>
      <T x={357} y={421}>HR=1.380</T>
      <T x={357} y={433}>p=0.0004</T>

      <LineKey x1={637} x2={656} y={297} color={GREEN} />
      <T x={665} y={297} size={12.5}><i>ORC6</i> adj. low</T>
      <LineKey x1={637} x2={656} y={313} color={ORANGE} />
      <T x={665} y={313} size={12.5}><i>ORC6</i> adj. high</T>
      <T x={605} y={421}>HR=0.931</T>
      <T x={605} y={433}>p=0.4230</T>

      {/* ---------- Panel B ---------- */}
      <T x={12} y={532} size={15} bold>B</T>
      <T x={43} y={532} size={14.5}><i>EZH2</i> CNV vs survival</T>
      <LineKey x1={118} x2={133} y={586} color={B_BLUE} />
      <T x={138} y={586} size={11.5}><i>EZH2</i> loss</T>
      <LineKey x1={118} x2={133} y={597} color={B_BLACK} />
      <T x={138} y={597} size={11.5}><i>EZH2</i> normal</T>
      <LineKey x1={118} x2={133} y={608} color={B_RED} />
      <T x={138} y={608} size={11.5}><i>EZH2</i> gain</T>
      <T x={56} y={697}>p&lt;0.0001</T>
      <T x={56} y={711}>HR gain vs loss=2.541</T>

      {/* ---------- Panel C ---------- */}
      <T x={236} y={532} size={15} bold>C</T>
      <T x={333} y={532} size={14.5} align="center">Chromosome 7</T>
      <T x={334} y={550} size={14.5} align="center">univariate Cox model</T>
      <T x={412} y={720} size={11}><i>EZH2</i></T>
      <T x={358} y={758} size={13.5} align="center">log pval.adj</T>

      {/* ---------- Panel D ---------- */}
      <div style={{ position: "absolute", left: 469, top: 527, width: 12, height: 10, border: "1px solid #444" }} />
      <T x={508} y={532} size={14.5}><i>PRC2</i> alterations in BCa metastases</T>
      <Swatch x={472} y={571} color={dColors.a} />
      <T x={478} y={571} size={11.5}>amplification</T>
      <Swatch x={550} y={571} color={dColors.p} />
      <T x={556} y={571} size={11.5}>gain</T>
      <Swatch x={472} y={596} color={dColors.s} />
      <T x={478} y={596} size={11.5}>shallow deletion</T>
      <Swatch x={568} y={596} color={dColors.g} mark={dColors.m} />
      <T x={574} y={596} size={11.5}>missense mutation</T>
      <Swatch x={674} y={596} color={dColors.g} mark={dColors.t} />
      <T x={680} y={596} size={11.5}>truncating mutation</T>
      <T x={593} y={746} size={11.5} align="center">chr7:148514484 G&gt;C</T>
      <T x={588} y={759} size={11.5} align="center">&gt; splice site mutation</T>
      <T x={716} y={746} size={11.5} align="center">Set-domain</T>
      <T x={716} y={759} size={11.5} align="center">coding exons</T>

      {/* ---------- Panel E ---------- */}
      <T x={6} y={806} size={15} bold>E</T>
      <T x={45} y={806} size={14.5}><i>PRC2</i> LOF in primary BCa (TCGA)</T>
      <Swatch x={38} y={963} color={eColors.d} h={15} />
      <T x={48} y={963} size={11.5}>deep deletion</T>
      <Swatch x={178} y={963} color={eColors.s} h={15} />
      <T x={188} y={963} size={11.5}>shallow deletion</T>
      <Swatch x={38} y={989} color={eColors.g} mark={eColors.t} h={15} />
      <T x={48} y={989} size={11.5}>truncating mutation</T>
      <Swatch x={178} y={989} color={eColors.g} mark={eColors.m} h={15} />
      <T x={188} y={989} size={11.5}>missense mutation</T>

      {/* ---------- Panel F ---------- */}
      <T x={341} y={806} size={15} bold>F</T>
      <T x={373} y={806} size={14.5}><i>PRC2</i> LOF and survival (TCGA)</T>
      <LineKey x1={467} x2={485} y={838} color={F_GRAY} w={3} />
      <T x={493} y={838} size={12.5}>PRC2 WT</T>
      <LineKey x1={467} x2={485} y={853} color={F_BLUE} w={3} />
      <T x={493} y={853} size={12.5}>PRC2 mut</T>
      <T x={498} y={897}>p&lt;0.0001</T>
      <T x={498} y={912}>HR=3.4</T>
    </div>
  );
}
